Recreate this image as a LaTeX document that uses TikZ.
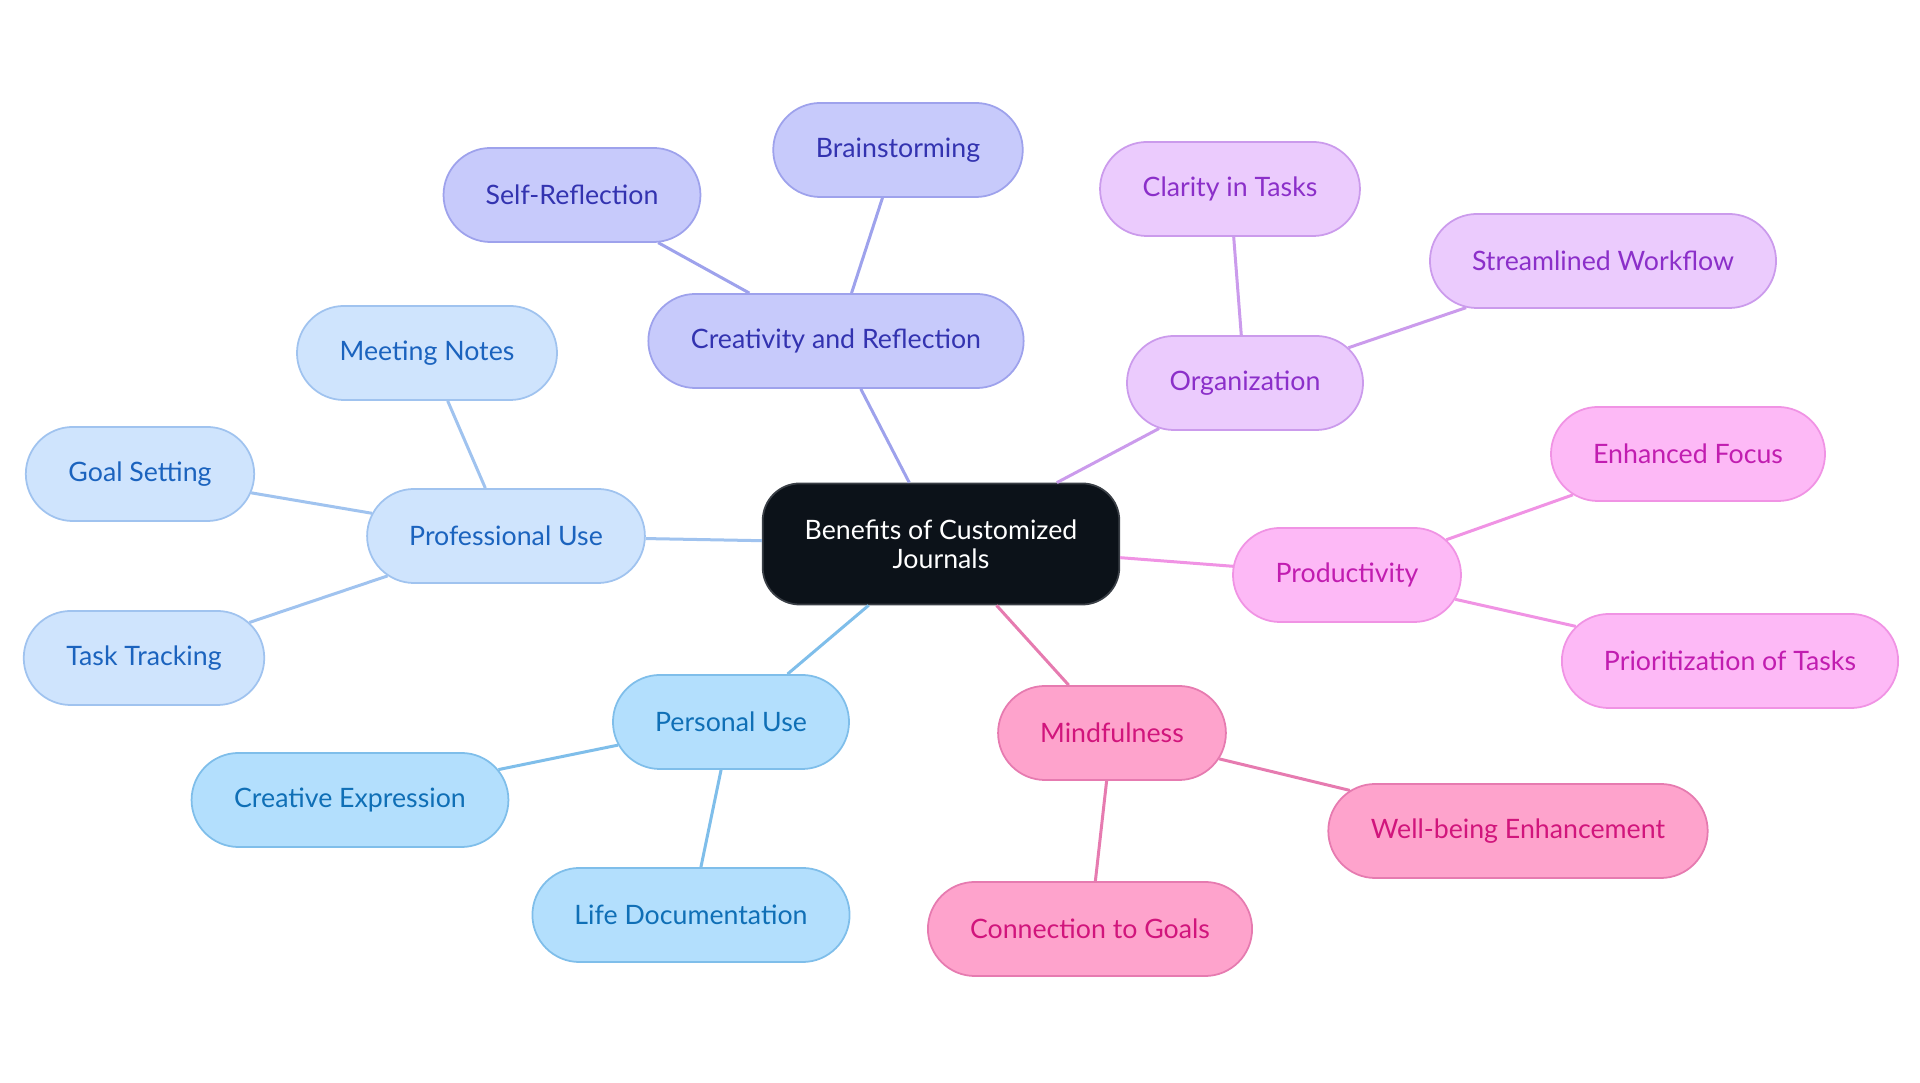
\documentclass[tikz,border=0pt]{standalone}
\usepackage{fontspec}
\setmainfont{Lato}
\usetikzlibrary{shapes.misc}
\definecolor{rootfill}{HTML}{0C1219}
\definecolor{rootline}{HTML}{3A3F46}
\definecolor{creafill}{HTML}{C7CAFB}
\definecolor{crealine}{HTML}{9EA2EC}
\definecolor{creatext}{HTML}{3333B0}
\definecolor{orgfill}{HTML}{EBCBFD}
\definecolor{orgline}{HTML}{CB9BEC}
\definecolor{orgtext}{HTML}{8B2FC9}
\definecolor{prodfill}{HTML}{FDB9F6}
\definecolor{prodline}{HTML}{F093E4}
\definecolor{prodtext}{HTML}{C11DB0}
\definecolor{mindfill}{HTML}{FEA3CC}
\definecolor{mindline}{HTML}{E67BB0}
\definecolor{mindtext}{HTML}{D1157C}
\definecolor{persfill}{HTML}{B3DFFD}
\definecolor{persline}{HTML}{7FBEEA}
\definecolor{perstext}{HTML}{0F6FB6}
\definecolor{proffill}{HTML}{CFE4FD}
\definecolor{profline}{HTML}{A0C3EF}
\definecolor{proftext}{HTML}{1B63BE}
\begin{document}
\begin{tikzpicture}[x=0.01cm,y=-0.01cm,
  every node/.style={font=\fontsize{7.6}{8.2}\selectfont},
  pill/.style={rounded rectangle, draw, line width=0.5pt, minimum height=0.94cm, inner xsep=0.41cm},
  root/.style={rectangle, rounded corners=0.37cm, draw=rootline, fill=rootfill, text=white, line width=0.5pt,
    minimum height=1.21cm, inner xsep=0.42cm, align=center},
  crea/.style={pill, fill=creafill, draw=crealine, text=creatext},
  org/.style={pill, fill=orgfill, draw=orgline, text=orgtext},
  prod/.style={pill, fill=prodfill, draw=prodline, text=prodtext},
  mind/.style={pill, fill=mindfill, draw=mindline, text=mindtext},
  pers/.style={pill, fill=persfill, draw=persline, text=perstext},
  prof/.style={pill, fill=proffill, draw=profline, text=proftext},
  link/.style={line width=0.03cm}]
\useasboundingbox (0,0) rectangle (1920,1083);
\node [root] (bcj) at (941,544) {Benefits of Customized\\Journals};
\node [crea] (cr) at (836,341) {Creativity and Reflection};
\node [crea] (brain) at (898,150) {Brainstorming};
\node [crea] (selfr) at (572,195) {Self-Reflection};
\node [org] (org) at (1245,383) {Organization};
\node [org] (clar) at (1230,189) {Clarity in Tasks};
\node [org] (flow) at (1603,261) {Streamlined Workflow};
\node [prod] (prod) at (1347,575) {Productivity};
\node [prod] (focus) at (1688,454) {Enhanced Focus};
\node [prod] (prio) at (1730,661) {Prioritization of Tasks};
\node [mind] (mind) at (1112,733) {Mindfulness};
\node [mind] (well) at (1518,831) {Well-being Enhancement};
\node [mind] (goals) at (1090,929) {Connection to Goals};
\node [pers] (pers) at (731,722) {Personal Use};
\node [pers] (expr) at (350,800) {Creative Expression};
\node [pers] (life) at (691,915) {Life Documentation};
\node [prof] (prof) at (506,536) {Professional Use};
\node [prof] (meet) at (427,353) {Meeting Notes};
\node [prof] (goalset) at (140,474) {Goal Setting};
\node [prof] (track) at (144,658) {Task Tracking};
\draw [link, crealine] (bcj) -- (cr);
\draw [link, crealine] (cr) -- (brain);
\draw [link, crealine] (cr) -- (selfr);
\draw [link, orgline] (bcj) -- (org);
\draw [link, orgline] (org) -- (clar);
\draw [link, orgline] (org) -- (flow);
\draw [link, prodline] (bcj) -- (prod);
\draw [link, prodline] (prod) -- (focus);
\draw [link, prodline] (prod) -- (prio);
\draw [link, mindline] (bcj) -- (mind);
\draw [link, mindline] (mind) -- (well);
\draw [link, mindline] (mind) -- (goals);
\draw [link, persline] (bcj) -- (pers);
\draw [link, persline] (pers) -- (expr);
\draw [link, persline] (pers) -- (life);
\draw [link, profline] (bcj) -- (prof);
\draw [link, profline] (prof) -- (meet);
\draw [link, profline] (prof) -- (goalset);
\draw [link, profline] (prof) -- (track);
\end{tikzpicture}
\end{document}
